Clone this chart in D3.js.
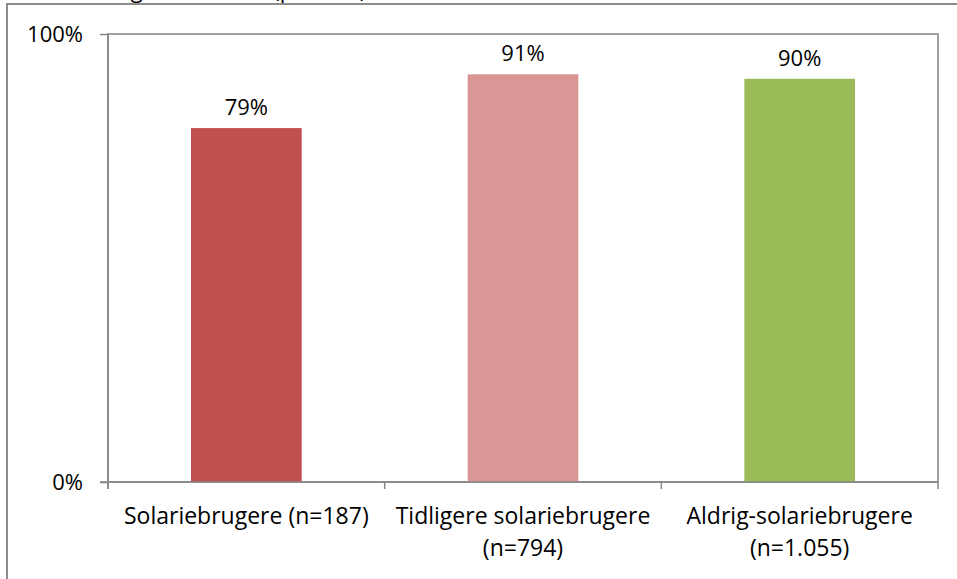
<!DOCTYPE html>
<meta charset="utf-8">
<style>
  body { margin: 0; background: #fff; }
  text { font-family: "Open Sans", "Noto Sans", sans-serif; fill: #000; }
  .axis path, .axis line { stroke: #868686; stroke-width: 1.5px; }
  .axis text { font-size: 22px; }
  .axis text.cat { font-size: 23px; }
</style>
<body>
<svg width="957" height="579"></svg>
<script src="https://cdn.jsdelivr.net/npm/d3@7"></script>
<script>

var titleText = "Brug af solcreme (procent)";
var categories = ["Solariebrugere (n=187)", "Tidligere solariebrugere (n=794)", "Aldrig-solariebrugere (n=1.055)"];
var labelLines = [["Solariebrugere (n=187)"], ["Tidligere solariebrugere", "(n=794)"], ["Aldrig-solariebrugere", "(n=1.055)"]];
var values = [79, 91, 90];
var barColors = ["#C0504D", "#D99694", "#9BBB59"];
var yTicks = [0, 100];

var svg = d3.select("svg");

var margin = {left: 108, top: 34, right: 938, bottom: 482};

// outer chart frame (runs off the picture at right and bottom)
svg.append("rect")
    .attr("x", 7).attr("y", 4)
    .attr("width", 1000).attr("height", 1000)
    .attr("fill", "none")
    .attr("stroke", "#8c8c8c")
    .attr("stroke-width", 2);

// title, mostly cut off at the top like in the source
svg.append("text")
    .attr("x", 94).attr("y", -2)
    .style("font-size", "22px")
    .text(titleText);

var x = d3.scaleBand()
    .domain(categories)
    .range([margin.left, margin.right])
    .paddingInner(0.6)
    .paddingOuter(0.3);

var y = d3.scaleLinear()
    .domain([0, 100])
    .range([margin.bottom, margin.top]);

// plot area border
svg.append("rect")
    .attr("x", margin.left).attr("y", margin.top)
    .attr("width", margin.right - margin.left)
    .attr("height", margin.bottom - margin.top)
    .attr("fill", "none")
    .attr("stroke", "#a0a0a0")
    .attr("stroke-width", 2);

svg.selectAll("rect.bar")
    .data(values)
  .enter().append("rect")
    .attr("class", "bar")
    .attr("x", function(d, i) { return x(categories[i]); })
    .attr("y", function(d) { return y(d); })
    .attr("width", x.bandwidth())
    .attr("height", function(d) { return y(0) - y(d); })
    .attr("fill", function(d, i) { return barColors[i]; });

svg.selectAll("text.val")
    .data(values)
  .enter().append("text")
    .attr("class", "val")
    .attr("x", function(d, i) { return x(categories[i]) + x.bandwidth() / 2; })
    .attr("y", function(d) { return y(d) - 13; })
    .attr("text-anchor", "middle")
    .style("font-size", "22px")
    .text(function(d) { return d + "%"; });

// y axis
var yAxis = svg.append("g")
    .attr("class", "axis")
    .attr("transform", "translate(" + margin.left + ",0)")
    .call(d3.axisLeft(y).tickValues(yTicks).tickSize(8).tickPadding(17)
      .tickFormat(function(d) { return d + "%"; }));
yAxis.select(".domain").remove();
yAxis.selectAll(".tick text").attr("fill", "#000");
yAxis.append("line")
    .attr("x1", 0).attr("x2", 0)
    .attr("y1", margin.top).attr("y2", margin.bottom + 7);

// x axis
var xAxis = svg.append("g")
    .attr("class", "axis")
    .attr("transform", "translate(0," + margin.bottom + ")");
xAxis.append("line")
    .attr("x1", margin.left - 8).attr("x2", margin.right);
var step = x.step();
xAxis.selectAll("line.tk")
    .data(d3.range(categories.length + 1))
  .enter().append("line")
    .attr("class", "tk")
    .attr("x1", function(i) { return margin.left + i * step; })
    .attr("x2", function(i) { return margin.left + i * step; })
    .attr("y1", 0).attr("y2", 7);

xAxis.selectAll("text.cat")
    .data(categories)
  .enter().append("text")
    .attr("class", "cat")
    .attr("x", function(d) { return x(d) + x.bandwidth() / 2; })
    .attr("y", 42)
    .attr("text-anchor", "middle")
    .each(function(d, i) {
      var t = d3.select(this);
      labelLines[i].forEach(function(line, j) {
        t.append("tspan")
          .attr("x", x(d) + x.bandwidth() / 2)
          .attr("dy", j === 0 ? 0 : 32)
          .text(line);
      });
    });

</script>
</body>
